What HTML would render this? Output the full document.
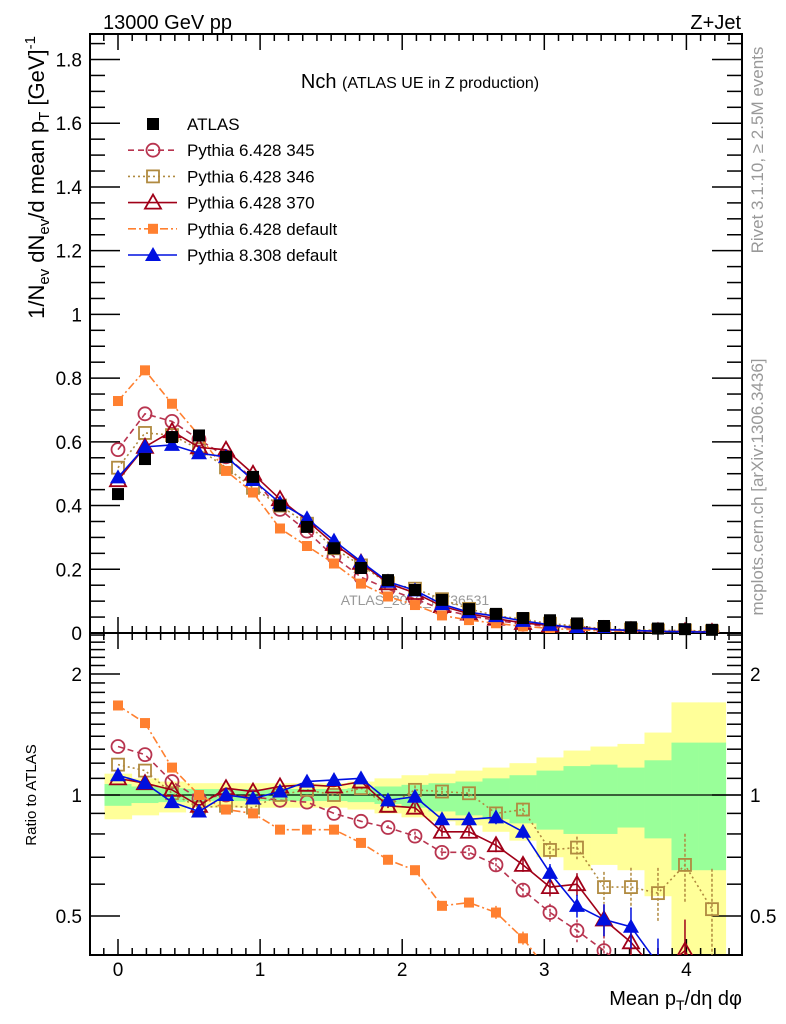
<!DOCTYPE html>
<html><head><meta charset="utf-8"><style>
body{margin:0;background:#fff;}
svg{display:block;font-family:"Liberation Sans",sans-serif;}
</style></head><body>
<svg id="c" width="786" height="1024" viewBox="0 0 786 1024" xmlns="http://www.w3.org/2000/svg">
<text x="103" y="29" font-size="20">13000 GeV pp</text>
<text x="741" y="29" font-size="20" text-anchor="end">Z+Jet</text>
<text x="420" y="88" font-size="20" text-anchor="middle">Nch <tspan font-size="16">(ATLAS UE in Z production)</tspan></text>
<text transform="translate(763,150) rotate(-90)" font-size="17" fill="#999" text-anchor="middle">Rivet 3.1.10, ≥ 2.5M events</text>
<text transform="translate(763,487) rotate(-90)" font-size="17" fill="#999" text-anchor="middle">mcplots.cern.ch [arXiv:1306.3436]</text>
<text transform="translate(44,36) rotate(-90)" font-size="22" text-anchor="end">1/N<tspan font-size="15" dy="5">ev</tspan><tspan dy="-5"> dN</tspan><tspan font-size="15" dy="5">ev</tspan><tspan dy="-5">/d mean p</tspan><tspan font-size="15" dy="5">T</tspan><tspan dy="-5"> [GeV]</tspan><tspan font-size="15" dy="-9">-1</tspan></text>
<text transform="translate(36,795) rotate(-90)" font-size="15" text-anchor="middle">Ratio to ATLAS</text>
<text x="742" y="1005" font-size="20" text-anchor="end">Mean p<tspan font-size="14" dy="5">T</tspan><tspan dy="-5">/dη dφ</tspan></text>
<text x="415" y="605" font-size="14" fill="#999" text-anchor="middle">ATLAS_2019_I1736531</text>
<g id="g"></g>
</svg>
<script>
const xs=[0,0.19,0.38,0.57,0.76,0.95,1.14,1.33,1.52,1.71,1.9,2.09,2.28,2.47,2.66,2.85,3.04,3.23,3.42,3.61,3.8,3.99,4.18];
const atlas=[0.436,0.546,0.615,0.62,0.553,0.49,0.40,0.333,0.266,0.204,0.166,0.135,0.104,0.075,0.06,0.047,0.04,0.03,0.022,0.018,0.014,0.012,0.01];
const r345=[1.32,1.26,1.08,0.98,1.0,0.99,0.97,0.96,0.90,0.86,0.83,0.79,0.72,0.72,0.67,0.58,0.51,0.46,0.41,0.36,0.33,0.3,0.3];
const r346=[1.19,1.15,1.01,0.93,0.94,0.93,1.0,1.03,1.0,1.04,0.94,1.03,1.02,1.01,0.90,0.92,0.73,0.74,0.59,0.59,0.57,0.67,0.52];
const r370=[1.10,1.07,1.03,0.94,1.04,1.02,1.05,1.06,1.05,1.08,0.94,0.93,0.81,0.81,0.75,0.67,0.59,0.60,0.49,0.43,0.36,0.41,0.3];
const rdef=[1.67,1.51,1.17,1.0,0.92,0.90,0.82,0.82,0.82,0.76,0.69,0.65,0.53,0.54,0.51,0.44,0.36,0.33,0.3,0.3,0.3,0.3,0.3];
const r8=[1.12,1.07,0.96,0.91,1.0,0.98,1.02,1.08,1.09,1.10,0.97,0.99,0.87,0.87,0.88,0.81,0.64,0.53,0.49,0.47,0.38,0.3,0.3];
const relErr=[0,0,0,0,0,0,0,0,0,0,0.01,0.02,0.02,0.02,0.03,0.03,0.04,0.05,0.07,0.09,0.12,0.15,0.2];
const yHi=[1.13,1.10,1.08,1.07,1.07,1.07,1.07,1.07,1.07,1.08,1.10,1.12,1.13,1.15,1.17,1.20,1.24,1.29,1.32,1.34,1.43,1.70,1.70];
const gHi=[1.065,1.05,1.04,1.035,1.035,1.035,1.035,1.035,1.035,1.04,1.05,1.06,1.07,1.08,1.10,1.12,1.15,1.18,1.19,1.17,1.22,1.35,1.35];
const gLo=[0.94,0.955,0.96,0.966,0.966,0.966,0.966,0.966,0.966,0.96,0.95,0.93,0.91,0.89,0.87,0.85,0.82,0.80,0.80,0.83,0.78,0.65,0.65];
const yLo=[0.87,0.89,0.905,0.93,0.93,0.93,0.93,0.93,0.93,0.92,0.90,0.88,0.86,0.84,0.81,0.77,0.70,0.65,0.67,0.65,0.56,0.32,0.32];
const mainTicks=[0,0.2,0.4,0.6,0.8,1,1.2,1.4,1.6,1.8];
const mainTickLabels=["0","0.2","0.4","0.6","0.8","1","1.2","1.4","1.6","1.8"];
const xTicks=[0,1,2,3,4];
const ratioTicks=[0.5,1,2];

const L=90,R=742,T=34,MB=633,RB=955;
const X=v=>118+v*142.1;
const Y=v=>633-v*318.6;
const RY=v=>795-Math.log2(v)*121;
const NS="http://www.w3.org/2000/svg";
const g=document.getElementById('g');
function el(t,a,p){const e=document.createElementNS(NS,t);for(const k in a)e.setAttribute(k,a[k]);(p||g).appendChild(e);return e;}

const defs=el('defs',{});
const c1=el('clipPath',{id:'cm'},defs);el('rect',{x:L,y:T,width:R-L,height:MB-T},c1);
const c2=el('clipPath',{id:'cr'},defs);el('rect',{x:L,y:MB,width:R-L,height:RB-MB},c2);

const bandG=el('g',{'clip-path':'url(#cr)'});


xs.forEach((x,i)=>{
  const x0=X(x)-13.5,w=27.1;
  const yb=el('rect',{x:x0,y:RY(yHi[i]),width:w+0.5,height:RY(yLo[i])-RY(yHi[i]),fill:'#ffff99'},bandG);
  
  
  const gb=el('rect',{x:x0,y:RY(gHi[i]),width:w+0.5,height:RY(gLo[i])-RY(gHi[i]),fill:'#99ff99'},bandG);
  
  
});
const one=el('line',{x1:L,x2:R,y1:RY(1),y2:RY(1),stroke:'#000','stroke-width':1.2});



const f1=el('rect',{x:L,y:T,width:R-L,height:MB-T,fill:'none',stroke:'#000','stroke-width':2});


const f2=el('rect',{x:L,y:MB,width:R-L,height:RB-MB,fill:'none',stroke:'#000','stroke-width':2});



function tk(x1,y1,x2,y2){el('line',{x1,y1,x2,y2,stroke:'#000','stroke-width':1.5});}
for(let v=-0.2;v<=4.35;v+=0.1){const vv=Math.round(v*10)/10;const x=X(vv);if(x<L||x>R)continue;
  const major=Math.abs(vv-Math.round(vv))<1e-6;const len=major?16:7;
  tk(x,MB,x,MB-len);tk(x,T,x,T+len);tk(x,RB,x,RB-len);tk(x,MB,x,MB+len);}
for(let v=0;v<=1.86;v+=0.05){const vv=Math.round(v*100)/100;const y=Y(vv);const major=Math.abs(vv*5-Math.round(vv*5))<1e-6;const len=major?30:15;
  tk(L,y,L+len,y);tk(R,y,R-len,y);}
mainTicks.forEach((v,i)=>{const t=el('text',{x:L-8,y:Y(v)+7,'font-size':19,'text-anchor':'end'});t.textContent=mainTickLabels[i];
  
  });
xTicks.forEach(v=>{const t=el('text',{x:X(v),y:976,'font-size':19,'text-anchor':'middle'});t.textContent=String(v);
  
  });
[0.4,0.5,0.6,0.7,0.8,0.9,1,1.1,1.2,1.3,1.4,1.5,1.6,1.7,1.8,1.9,2,2.1,2.2,2.3,2.4,2.5].forEach(v=>{const y=RY(v);if(y<MB||y>RB)return;
  const major=ratioTicks.includes(v);const len=major?30:15;tk(L,y,L+len,y);tk(R,y,R-len,y);});
ratioTicks.forEach(v=>{const t=el('text',{x:L-8,y:RY(v)+7,'font-size':19,'text-anchor':'end'});t.textContent=String(v);
  
  
  const t2=el('text',{x:R+8,y:RY(v)+7,'font-size':19});t2.textContent=String(v);
  
  });

function marker(p,type,x,y,col){
  let m;
  if(type==='sq') m=el('rect',{x:x-6,y:y-6,width:12,height:12,fill:col},p);
  else if(type==='osq') m=el('rect',{x:x-6,y:y-6,width:12,height:12,fill:'none',stroke:col,'stroke-width':1.8},p);
  else if(type==='fsq') m=el('rect',{x:x-5,y:y-5,width:10,height:10,fill:col},p);
  else if(type==='oc') m=el('circle',{cx:x,cy:y,r:6.5,fill:'none',stroke:col,'stroke-width':1.8},p);
  else if(type==='otri') m=el('polygon',{points:`${x},${y-8} ${x-8},${y+6} ${x+8},${y+6}`,fill:'none',stroke:col,'stroke-width':1.8},p);
  else m=el('polygon',{points:`${x},${y-8} ${x-8},${y+6} ${x+8},${y+6}`,fill:col},p);
  
  
}
const series=[
 {name:'pythia6-345',r:r345,col:'#b8344f',dash:'6,4',m:'oc'},
 {name:'pythia6-346',r:r346,col:'#b08a40',dash:'2,3',m:'osq'},
 {name:'pythia6-370',r:r370,col:'#a00018',dash:'',m:'otri'},
 {name:'pythia6-default',r:rdef,col:'#ff8030',dash:'8,3,2,3',m:'fsq'},
 {name:'pythia8-default',r:r8,col:'#0010e0',dash:'',m:'tri'}
];
series.forEach(s=>{
  const gm=el('g',{'clip-path':'url(#cm)'});
  
  
  const gr=el('g',{'clip-path':'url(#cr)'});
  
  
  const mv=xs.map((x,i)=>atlas[i]*s.r[i]);
  el('polyline',{points:xs.map((x,i)=>X(x)+','+Y(mv[i])).join(' '),fill:'none',stroke:s.col,'stroke-width':1.6,'stroke-dasharray':s.dash},gm);
  el('polyline',{points:xs.map((x,i)=>X(x)+','+RY(s.r[i])).join(' '),fill:'none',stroke:s.col,'stroke-width':1.6,'stroke-dasharray':s.dash},gr);
  xs.forEach((x,i)=>{
    marker(gm,s.m,X(x),Y(mv[i]),s.col);
    const e=relErr[i]*s.r[i]*1.3;
    if(e>0){el('line',{x1:X(x),x2:X(x),y1:RY(s.r[i]+e),y2:RY(Math.max(0.05,s.r[i]-e)),stroke:s.col,'stroke-width':1.5,'stroke-dasharray':s.dash?'3,2':''},gr);}
    marker(gr,s.m,X(x),RY(s.r[i]),s.col);
  });
});
const ga=el('g',{});


xs.forEach((x,i)=>marker(ga,'sq',X(x),Y(atlas[i]),'#000'));

const leg=[['ATLAS','sq','#000',''],['Pythia 6.428 345','oc','#b8344f','6,4'],['Pythia 6.428 346','osq','#b08a40','2,3'],['Pythia 6.428 370','otri','#a00018',''],['Pythia 6.428 default','fsq','#ff8030','8,3,2,3'],['Pythia 8.308 default','tri','#0010e0','']];
leg.forEach((l,i)=>{
  const y=124+i*26.2;
  const lg=el('g',{});
  
  
  if(i>0) el('line',{x1:128,x2:177,y1:y,y2:y,stroke:l[2],'stroke-width':1.6,'stroke-dasharray':l[3]},lg);
  marker(lg,l[1],153,y,l[2]);
  const t=el('text',{x:187,y:y+6,'font-size':17},lg);t.textContent=l[0];
});
</script>
</body></html>
